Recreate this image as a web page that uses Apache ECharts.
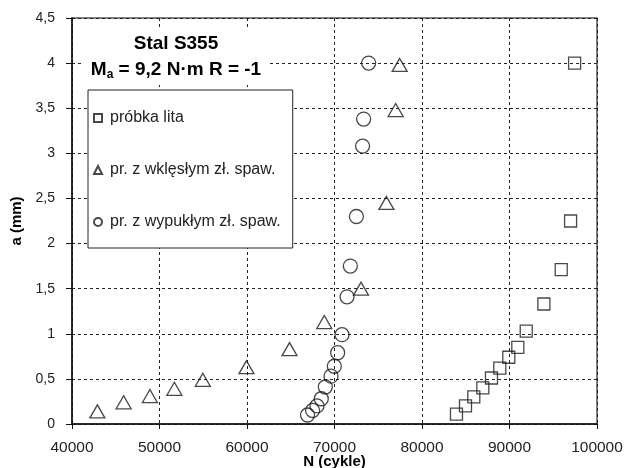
<!DOCTYPE html>
<html>
<head>
<meta charset="utf-8">
<script src="https://cdn.jsdelivr.net/npm/echarts@6/dist/echarts.min.js"></script>
<style>
  html, body { margin: 0; padding: 0; background: #fff; }
  #chart { width: 635px; height: 468px; }
</style>
</head>
<body>
<div id="chart"></div>
<script>
// próbka lita (squares)
var litaN = [83940, 84970, 85920, 86950, 87940, 88890, 89920, 90950, 91910, 93930, 95910, 96980, 97440];
var litaA = [0.11, 0.20, 0.30, 0.40, 0.51, 0.62, 0.74, 0.85, 1.03, 1.33, 1.71, 2.25, 4.0];

// pr. z wklęsłym zł. spaw. (triangles)
var wklN = [42900, 45900, 48900, 51700, 54950, 59940, 64860, 68830, 73030, 75930, 76990, 77450];
var wklA = [0.14, 0.24, 0.31, 0.39, 0.49, 0.63, 0.83, 1.13, 1.50, 2.45, 3.48, 3.98];

// pr. z wypukłym zł. spaw. (circles)
var wypN = [66920, 67500, 68000, 68490, 68950, 69600, 69980, 70360, 70860, 71430, 71810, 72500, 73210, 73330, 73900];
var wypA = [0.10, 0.15, 0.20, 0.28, 0.41, 0.53, 0.64, 0.79, 0.99, 1.41, 1.75, 2.30, 3.08, 3.38, 4.0];

var seriesNames = ['próbka lita', 'pr. z wklęsłym zł. spaw.', 'pr. z wypukłym zł. spaw.'];

function pairs(xs, ys) {
    var out = [];
    for (var i = 0; i < xs.length; i++) {
        out.push([xs[i], ys[i]]);
    }
    return out;
}

var chart = echarts.init(document.getElementById('chart'), null, { renderer: 'canvas' });

var markStyle = {
    color: 'transparent',
    borderColor: '#1a1a1a',
    borderWidth: 1.3
};

var gridLine = {
    show: true,
    lineStyle: { color: '#222', width: 1, type: [3, 3] }
};

var option = {
    animation: false,
    backgroundColor: '#fff',
    textStyle: { fontFamily: 'Liberation Sans, Arial, sans-serif' },
    title: {
        left: 168,
        top: 27,
        textAlign: 'center',
        text: 'Stal S355\n{m|M}{s|a}{m| = 9,2 N·m R = -1}',
        backgroundColor: '#fff',
        padding: [4, 8, 2, 8],
        textStyle: {
            fontFamily: 'Liberation Sans, Arial, sans-serif',
            fontSize: 19,
            fontWeight: 'bold',
            color: '#000',
            lineHeight: 26,
            rich: {
                m: { fontSize: 19, fontWeight: 'bold', color: '#000', lineHeight: 26 },
                s: { fontSize: 12, fontWeight: 'bold', color: '#000', padding: [9, 0, 0, 0] }
            }
        }
    },
    legend: {
        orient: 'vertical',
        left: 88,
        top: 90,
        data: seriesNames,
        itemWidth: 8,
        itemHeight: 8,
        itemGap: 36,
        padding: [20, 12, 18, 5],
        backgroundColor: '#fff',
        borderColor: '#222',
        borderWidth: 1,
        textStyle: {
            fontFamily: 'Liberation Sans, Arial, sans-serif',
            fontSize: 16,
            color: '#222',
            padding: [0, 0, 0, 3]
        }
    },
    grid: {
        left: 72,
        right: 38,
        top: 18,
        bottom: 44,
        outerBoundsMode: 'none',
        containLabel: false,
        show: true,
        borderColor: '#555',
        borderWidth: 1.5,
        backgroundColor: 'transparent'
    },
    xAxis: {
        type: 'value',
        min: 40000,
        max: 100000,
        interval: 10000,
        name: 'N (cykle)',
        nameLocation: 'middle',
        nameGap: 30,
        nameMoveOverlap: false,
        nameTextStyle: { fontSize: 15, fontWeight: 'bold', color: '#000' },
        axisLine: { show: true, onZero: false, lineStyle: { color: '#111', width: 1.5 } },
        axisTick: { show: true, inside: false, length: 5, lineStyle: { color: '#111' } },
        axisLabel: {
            fontSize: 15.5,
            color: '#222',
            margin: 16,
            formatter: function (v) { return String(v); }
        },
        splitLine: gridLine
    },
    yAxis: {
        type: 'value',
        min: 0,
        max: 4.5,
        interval: 0.5,
        name: 'a (mm)',
        nameLocation: 'middle',
        nameGap: 48,
        nameMoveOverlap: false,
        nameRotate: 90,
        nameTextStyle: { fontSize: 15, fontWeight: 'bold', color: '#000' },
        axisLine: { show: true, onZero: false, lineStyle: { color: '#111', width: 1.5 } },
        axisTick: { show: true, inside: false, length: 6, lineStyle: { color: '#111' } },
        axisLabel: {
            fontSize: 14,
            color: '#222',
            margin: 17,
            formatter: function (v) { return String(v).replace('.', ','); }
        },
        splitLine: gridLine
    },
    series: [
        {
            name: seriesNames[0],
            type: 'scatter',
            symbol: 'rect',
            symbolSize: 12,
            itemStyle: markStyle,
            data: pairs(litaN, litaA)
        },
        {
            name: seriesNames[1],
            type: 'scatter',
            symbol: 'triangle',
            symbolSize: [15, 13],
            itemStyle: markStyle,
            data: pairs(wklN, wklA)
        },
        {
            name: seriesNames[2],
            type: 'scatter',
            symbol: 'circle',
            symbolSize: 14,
            itemStyle: markStyle,
            data: pairs(wypN, wypA)
        }
    ]
};

chart.setOption(option);
</script>
</body>
</html>
